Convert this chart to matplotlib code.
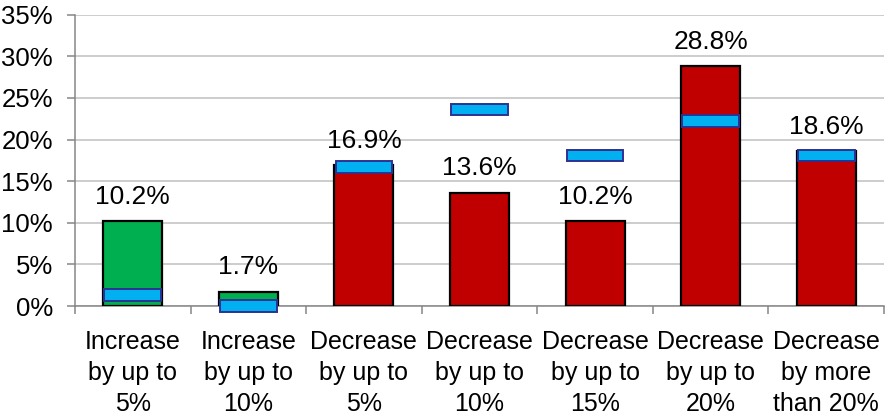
import matplotlib
matplotlib.use("Agg")
import matplotlib.pyplot as plt
from matplotlib.ticker import FixedLocator, FuncFormatter

plt.rcParams['font.family'] = ['Liberation Sans', 'DejaVu Sans']

categories = ["Increase\nby up to\n5%", "Increase\nby up to\n10%", "Decrease\nby up to\n5%",
              "Decrease\nby up to\n10%", "Decrease\nby up to\n15%", "Decrease\nby up to\n20%",
              "Decrease\nby more\nthan 20%"]
shares = [10.2, 1.7, 16.9, 13.6, 10.2, 28.8, 18.6]
benchmark = [1.3, 0.0, 16.7, 23.6, 18.1, 22.2, 18.1]
direction = ["up", "up", "down", "down", "down", "down", "down"]
yticks = [0, 5, 10, 15, 20, 25, 30, 35]

GREEN = "#00B050"
RED = "#C00000"
BLUE = "#00B0F0"
NAVY = "#2E3192"
GRID = "#C0C0C0"
AXIS = "#868686"

fig = plt.figure(figsize=(8.85, 4.18), dpi=100)
ax = fig.add_axes([75 / 885, 1 - 306 / 418, (884 - 75) / 885, (306 - 14.7) / 418])

x = list(range(len(categories)))
bar_colors = [GREEN if d == "up" else RED for d in direction]
ax.bar(x, shares, width=0.51, color=bar_colors, edgecolor="black", linewidth=1.6, zorder=3)

# benchmark markers as short flat boxes centred on their value
mark_h = 1.4
ax.bar(x, [mark_h] * len(x), bottom=[b - mark_h / 2 for b in benchmark], width=0.49,
       color=BLUE, edgecolor=NAVY, linewidth=1.4, zorder=4, clip_on=False)

for xi, v in zip(x, shares):
    ax.annotate(f"{v:.1f}%", (xi, v), xytext=(0, 12.5), textcoords="offset points",
                ha="center", va="baseline", fontsize=19, color="black")

ax.set_xlim(-0.5, len(x) - 0.5)
ax.set_ylim(0, 35)
ax.yaxis.set_major_locator(FixedLocator(yticks))
ax.yaxis.set_major_formatter(FuncFormatter(lambda v, p: f"{v:.0f}%"))
ax.grid(axis="y", color=GRID, linewidth=1.1, zorder=0)
ax.set_axisbelow(True)

ax.set_xticks(x)
ax.set_xticklabels(categories, fontsize=18, linespacing=1.37)
ax.xaxis.set_minor_locator(FixedLocator([i - 0.5 for i in range(len(x) + 1)]))
ax.tick_params(axis="x", which="major", length=0, pad=17)
ax.tick_params(axis="x", which="minor", length=6, color=AXIS, width=1.1)
ax.tick_params(axis="y", length=6, color=AXIS, width=1.1, labelsize=18.5, pad=10)

for s in ("top", "right"):
    ax.spines[s].set_visible(False)
for s in ("left", "bottom"):
    ax.spines[s].set_color(AXIS)
    ax.spines[s].set_linewidth(1.1)

fig.savefig("out.png", dpi=100)
